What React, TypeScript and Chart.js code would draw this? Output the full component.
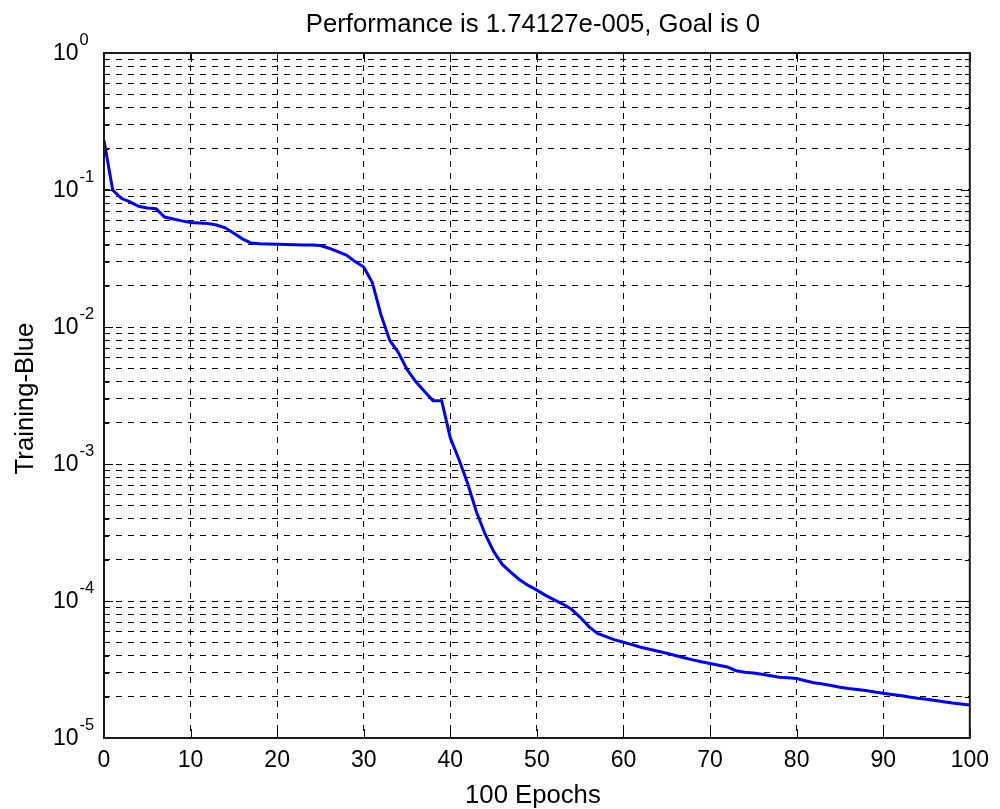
import React, { useEffect, useRef } from "react";
import { Chart, registerables } from "chart.js";

Chart.register(...registerables);

const epochs = Array.from({ length: 101 }, (_, i) => i);

const trainingPerf = [
  0.23, 0.1, 0.087, 0.082, 0.076, 0.074, 0.073, 0.0635, 0.0615, 0.0595,
  0.058, 0.0575, 0.057, 0.0555, 0.053, 0.0484, 0.044, 0.041, 0.0405, 0.0404,
  0.0402, 0.04, 0.0398, 0.0397, 0.0396, 0.0393, 0.0376, 0.0355, 0.0335, 0.03,
  0.0274, 0.021, 0.0122, 0.008, 0.0065, 0.0049, 0.004, 0.0034, 0.0029, 0.0029,
  0.00155, 0.00108, 0.00072, 0.00045, 0.00031, 0.00023, 0.000185, 0.000162, 0.000143, 0.00013,
  0.00012, 0.00011, 0.000102, 0.000095, 0.000087, 0.000076, 0.000065, 0.000058, 0.000055, 0.000052,
  0.00005, 0.000048, 0.000046, 0.0000445, 0.000043, 0.0000415, 0.00004, 0.0000385, 0.0000372, 0.000036,
  0.000035, 0.000034, 0.000033, 0.000031, 0.0000302, 0.0000298, 0.0000292, 0.0000285, 0.0000278, 0.0000275,
  0.0000272, 0.0000262, 0.0000253, 0.0000248, 0.0000242, 0.0000235, 0.000023, 0.0000226, 0.0000222, 0.0000217,
  0.0000212, 0.0000208, 0.0000204, 0.0000199, 0.0000195, 0.0000192, 0.0000188, 0.0000184, 0.000018, 0.0000177,
  0.0000174,
];

const xTickValues = [0, 10, 20, 30, 40, 50, 60, 70, 80, 90, 100];
const yMajorTicks = [1e-5, 1e-4, 1e-3, 1e-2, 1e-1, 1];
const yMajorExponents = ["-5", "-4", "-3", "-2", "-1", "0"];
const yMinorMultipliers = [2, 3, 4, 5, 6, 7, 8, 9];

const titleText = "Performance is 1.74127e-005, Goal is 0";
const xTitleText = "100 Epochs";
const yTitleText = "Training-Blue";

const FONT = "'Liberation Sans', Arial, Helvetica, sans-serif";
const LABEL_SIZE = 25.7;
const TICK_SIZE = 23;
const EXP_SIZE = 16.5;

const yTickValues: number[] = [];
yMajorTicks.forEach((m, i) => {
  yTickValues.push(m);
  if (i < yMajorTicks.length - 1) {
    yMinorMultipliers.forEach((k) => yTickValues.push(Number((m * k).toPrecision(3))));
  }
});

const matlabAxesPlugin = {
  id: "matlabAxes",
  afterDraw(chart: any) {
    const { ctx, chartArea: a, scales } = chart;
    const xs = scales.x;
    const ys = scales.y;
    ctx.save();
    ctx.strokeStyle = "#000";
    ctx.lineWidth = 1;
    ctx.setLineDash([]);
    // inner tick marks, x
    xTickValues.forEach((v) => {
      const px = Math.round(xs.getPixelForValue(v)) + 0.5;
      ctx.beginPath();
      ctx.moveTo(px, a.bottom);
      ctx.lineTo(px, a.bottom - 9);
      ctx.moveTo(px, a.top);
      ctx.lineTo(px, a.top + 9);
      ctx.stroke();
    });
    // inner tick marks, y
    yTickValues.forEach((v) => {
      const isMajor = yMajorTicks.includes(v);
      const len = isMajor ? 9 : 5;
      const py = Math.round(ys.getPixelForValue(v)) + 0.5;
      ctx.beginPath();
      ctx.moveTo(a.left, py);
      ctx.lineTo(a.left + len, py);
      ctx.moveTo(a.right, py);
      ctx.lineTo(a.right - len, py);
      ctx.stroke();
    });
    // box
    ctx.lineWidth = 2;
    ctx.strokeStyle = "#1a1a1a";
    ctx.strokeRect(a.left, a.top, a.right - a.left, a.bottom - a.top);

    ctx.fillStyle = "#000";
    // y tick labels with superscript exponent
    ctx.textAlign = "left";
    ctx.textBaseline = "middle";
    yMajorTicks.forEach((v, i) => {
      const py = ys.getPixelForValue(v);
      ctx.font = `${TICK_SIZE}px ${FONT}`;
      const baseX = 53;
      ctx.fillText("10", baseX, py + 1);
      const w = ctx.measureText("10").width;
      ctx.font = `${EXP_SIZE}px ${FONT}`;
      ctx.fillText(yMajorExponents[i], baseX + w + 1, py - 13);
    });

    // title and axis titles
    const cx = (a.left + a.right) / 2 - 4;
    ctx.textAlign = "center";
    ctx.textBaseline = "alphabetic";
    ctx.font = `${LABEL_SIZE}px ${FONT}`;
    ctx.fillText(titleText, cx, 32);
    ctx.fillText(xTitleText, cx, 802.5);
    ctx.save();
    ctx.translate(33, (a.top + a.bottom) / 2 + 3);
    ctx.rotate(-Math.PI / 2);
    ctx.fillText(yTitleText, 0, 0);
    ctx.restore();

    ctx.restore();
  },
};

export default function App() {
  const canvasRef = useRef<HTMLCanvasElement | null>(null);

  useEffect(() => {
    document.body.style.margin = "0";
    const canvas = canvasRef.current;
    if (!canvas) return;
    const chart = new Chart(canvas, {
      type: "line",
      data: {
        datasets: [
          {
            label: yTitleText,
            data: epochs.map((e, i) => ({ x: e, y: trainingPerf[i] })),
            borderColor: "rgb(0,0,255)",
            borderWidth: 3,
            pointRadius: 0,
            tension: 0,
            fill: false,
          },
        ],
      },
      options: {
        animation: false,
        responsive: false,
        devicePixelRatio: 1,
        layout: { padding: { left: 0, top: 53, right: 27, bottom: 0 } },
        plugins: {
          legend: { display: false },
          tooltip: { enabled: false },
          title: { display: false },
        },
        scales: {
          x: {
            type: "linear",
            min: 0,
            max: 100,
            afterBuildTicks: (s: any) => {
              s.ticks = xTickValues.map((v) => ({ value: v }));
            },
            afterFit: (s: any) => {
              s.height = 71;
            },
            ticks: {
              color: "#000",
              font: { family: FONT, size: TICK_SIZE, lineHeight: 1 },
              padding: 11,
              maxRotation: 0,
              autoSkip: false,
            },
            grid: { color: "#000", lineWidth: 1, drawTicks: false },
            border: { display: false, dash: [6, 6] },
          },
          y: {
            type: "logarithmic",
            min: 1e-5,
            max: 1,
            afterBuildTicks: (s: any) => {
              s.ticks = yTickValues.map((v) => ({ value: v, major: yMajorTicks.includes(v) }));
            },
            afterFit: (s: any) => {
              s.width = 104;
            },
            ticks: { display: false },
            grid: { color: "#000", lineWidth: 1, drawTicks: false },
            border: { display: false, dash: [6, 6] },
          },
        },
      },
      plugins: [matlabAxesPlugin],
    });
    return () => chart.destroy();
  }, []);

  return (
    <div style={{ width: 1000, height: 809, background: "#fff" }}>
      <canvas ref={canvasRef} width={1000} height={809} style={{ display: "block" }} />
    </div>
  );
}
